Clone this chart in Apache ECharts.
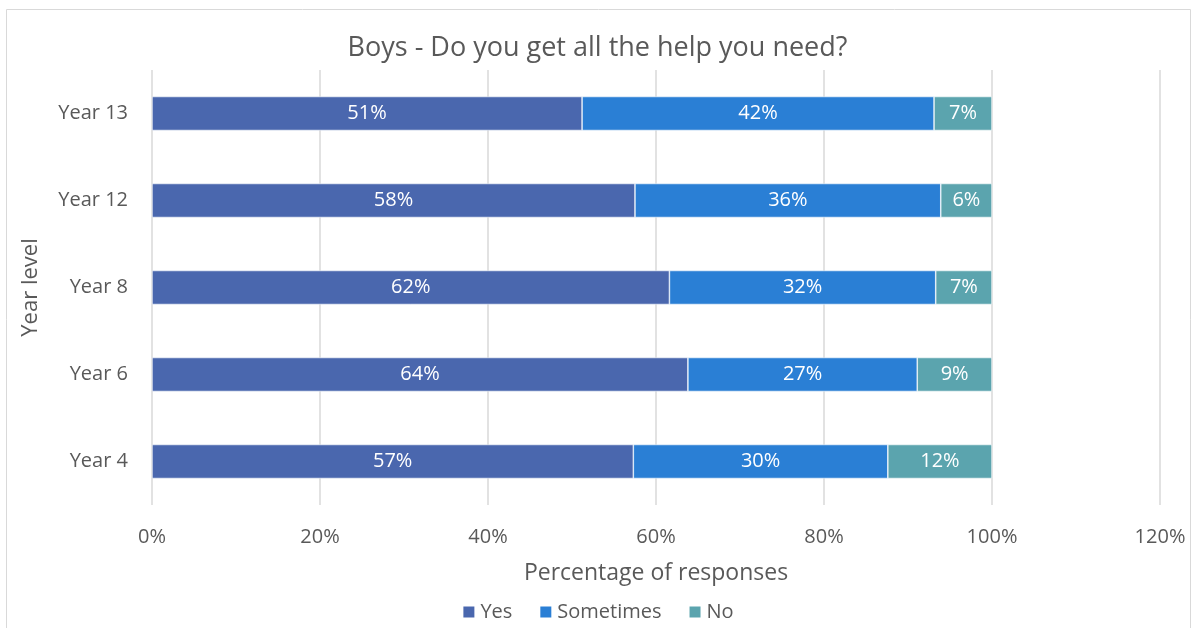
<!DOCTYPE html>
<html>
<head>
<meta charset="utf-8">
<script src="https://cdn.jsdelivr.net/npm/echarts@6/dist/echarts.min.js"></script>
<style>
  html, body { margin: 0; padding: 0; background: #fff; }
  #chart { width: 1195px; height: 628px; }
</style>
</head>
<body>
<div id="chart"></div>
<script>
// data (percent of responses)
const years = ['Year 4', 'Year 6', 'Year 8', 'Year 12', 'Year 13'];
const yesData = [57.3, 63.8, 61.6, 57.5, 51.2];
const sometimesData = [30.3, 27.3, 31.7, 36.4, 41.9];
const noData = [12.4, 8.9, 6.7, 6.1, 6.9];
const xTicks = [0, 20, 40, 60, 80, 100, 120];

const font = 'Open Sans, Noto Sans, sans-serif';
const textColor = '#595959';

const chart = echarts.init(document.getElementById('chart'));

function barSeries(name, data, color) {
    return {
        name: name,
        type: 'bar',
        stack: 'total',
        data: data,
        barWidth: 34,
        itemStyle: { color: color, borderColor: '#ffffff', borderWidth: 0.6 },
        label: {
            show: true,
            position: 'inside',
            color: '#ffffff',
            fontFamily: font,
            fontSize: 20,
            formatter: p => Math.round(p.value) + '%'
        }
    };
}

const option = {
    animation: false,
    textStyle: { fontFamily: font },
    graphic: [{
        type: 'rect',
        shape: { x: 6.5, y: 9.5, width: 1184, height: 640 },
        style: { fill: 'none', stroke: '#d9d9d9', lineWidth: 1 },
        silent: true
    }],
    title: {
        text: 'Boys - Do you get all the help you need?',
        left: 'center',
        top: 30,
        textStyle: { fontFamily: font, fontSize: 27, fontWeight: 'normal', color: textColor }
    },
    legend: {
        bottom: 1,
        left: 'center',
        itemWidth: 13,
        itemHeight: 13,
        itemGap: 26,
        icon: 'rect',
        textStyle: { fontFamily: font, fontSize: 20, color: textColor },
        data: ['Yes', 'Sometimes', 'No']
    },
    grid: { left: 152, right: 35, top: 70, bottom: 123 },
    xAxis: {
        type: 'value',
        min: 0,
        max: 120,
        interval: 20,
        name: 'Percentage of responses',
        nameLocation: 'middle',
        nameGap: 57,
        nameTextStyle: { fontFamily: font, fontSize: 23, color: textColor },
        axisLabel: {
            fontFamily: font, fontSize: 20, color: textColor, margin: 22,
            formatter: v => xTicks.includes(v) ? v + '%' : ''
        },
        axisLine: { show: false },
        axisTick: { show: false },
        splitLine: { lineStyle: { color: '#d9d9d9', width: 1.5 } }
    },
    yAxis: {
        type: 'category',
        data: years,
        name: 'Year level',
        nameLocation: 'middle',
        nameGap: 110,
        nameTextStyle: { fontFamily: font, fontSize: 22, color: textColor },
        axisLabel: { fontFamily: font, fontSize: 20, color: textColor, margin: 24 },
        axisLine: { show: false },
        axisTick: { show: false }
    },
    series: [
        barSeries('Yes', yesData, '#4a67ae'),
        barSeries('Sometimes', sometimesData, '#2a7fd5'),
        barSeries('No', noData, '#5ba4ae')
    ]
};

chart.setOption(option);
</script>
</body>
</html>
